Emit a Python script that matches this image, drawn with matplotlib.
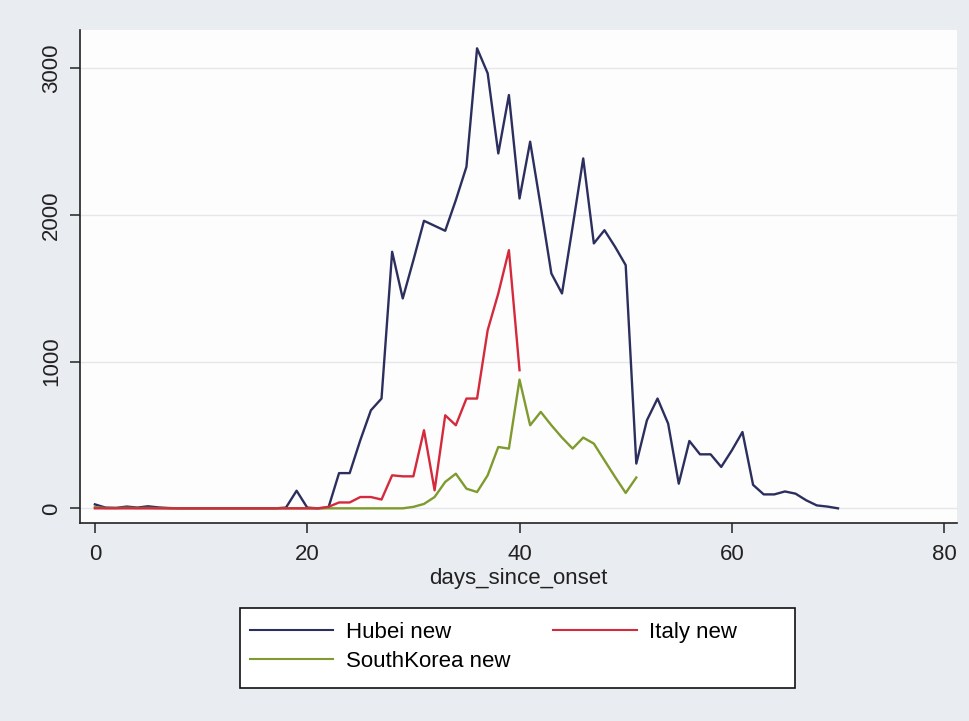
import matplotlib.pyplot as plt
from matplotlib.patches import Rectangle

# daily new cases, indexed by days since onset
hubei_new = [27, 5, 3, 12, 5, 14, 6, 2, 0, 0, 0, 0, 0, 0, 0, 0, 0, 0, 5, 120,
             5, 0, 5, 240, 240, 464, 668, 748, 1748, 1430, 1690, 1959, 1925, 1891,
             2100, 2327, 3134, 2964, 2418, 2816, 2111, 2498, 2055, 1600, 1464,
             1918, 2384, 1805, 1895, 1782, 1657, 305, 600, 748, 577, 168, 459,
             368, 368, 282, 395, 520, 160, 95, 95, 115, 100, 55, 20, 12, 0]
italy_new = [0, 0, 0, 0, 0, 0, 0, 0, 0, 0, 0, 0, 0, 0, 0, 0, 0, 0, 0, 0, 0, 0,
             10, 40, 40, 77, 77, 60, 225, 218, 218, 532, 123, 634, 566, 748, 748,
             1214, 1464, 1759, 941]
korea_new = [8, 2, 2, 4, 2, 3, 1, 0, 0, 0, 0, 0, 0, 0, 0, 0, 0, 0, 0, 0, 0, 0,
             0, 0, 0, 0, 0, 0, 0, 0, 10, 30, 77, 180, 236, 134, 111, 225, 418, 407,
             877, 566, 657, 566, 482, 407, 482, 441, 327, 214, 105, 210]

hubei_days = list(range(len(hubei_new)))
italy_days = list(range(len(italy_new)))
korea_days = list(range(len(korea_new)))

x_ticks = [0, 20, 40, 60, 80]
y_ticks = [0, 1000, 2000, 3000]

plt.rcParams["font.family"] = ["Liberation Sans", "DejaVu Sans"]

W, H = 970, 721
fig = plt.figure(figsize=(9.7, 7.21), dpi=100, facecolor="#e9ecf0")
ax = fig.add_axes([0.0825, 0.2746, 0.904, 0.684])
ax.set_facecolor("#fdfdfd")

ax.plot(hubei_days, hubei_new, color="#2c2f5e", lw=1.7, label="Hubei new")
ax.plot(korea_days, korea_new, color="#7f9a2e", lw=1.7, label="SouthKorea new")
ax.plot(italy_days, italy_new, color="#d42a3c", lw=1.7, label="Italy new")

ax.set_xlim(-1.4, 81.2)
ax.set_ylim(-100, 3260)
ax.set_xticks(x_ticks)
ax.set_yticks(y_ticks)
ax.grid(axis="y", color="#e4e8ec", lw=1)
ax.set_axisbelow(True)

for s in ["top", "right"]:
    ax.spines[s].set_visible(False)
for s in ["left", "bottom"]:
    ax.spines[s].set_color("#222222")
    ax.spines[s].set_linewidth(1.2)

ax.tick_params(axis="both", length=7, width=1.1, color="#222222",
               labelsize=16, labelcolor="#222222")
ax.tick_params(axis="x", pad=8)
ax.tick_params(axis="y", pad=6)
for lab in ax.get_yticklabels():
    lab.set_rotation(90)
    lab.set_va("center")

ax.set_xlabel("days_since_onset", fontsize=16, color="#222222", labelpad=2)

# legend box drawn by hand, Stata style (wider than its contents)
box_l, box_t, box_r, box_b = 240, 608, 795, 688
fig.patches.append(Rectangle((box_l / W, 1 - box_b / H), (box_r - box_l) / W,
                             (box_b - box_t) / H, transform=fig.transFigure,
                             facecolor="white", edgecolor="#111111", lw=1.2))
leg = fig.legend(loc="center left", bbox_to_anchor=(box_l / W, 1 - 647 / H),
                 ncol=2, fontsize=16, handlelength=3.75, handletextpad=0.55,
                 labelspacing=0.34, borderpad=0.45, borderaxespad=0,
                 columnspacing=1.95, frameon=False)
for line in leg.get_lines():
    line.set_linewidth(1.5)

fig.savefig("out.png", dpi=100, facecolor=fig.get_facecolor())
